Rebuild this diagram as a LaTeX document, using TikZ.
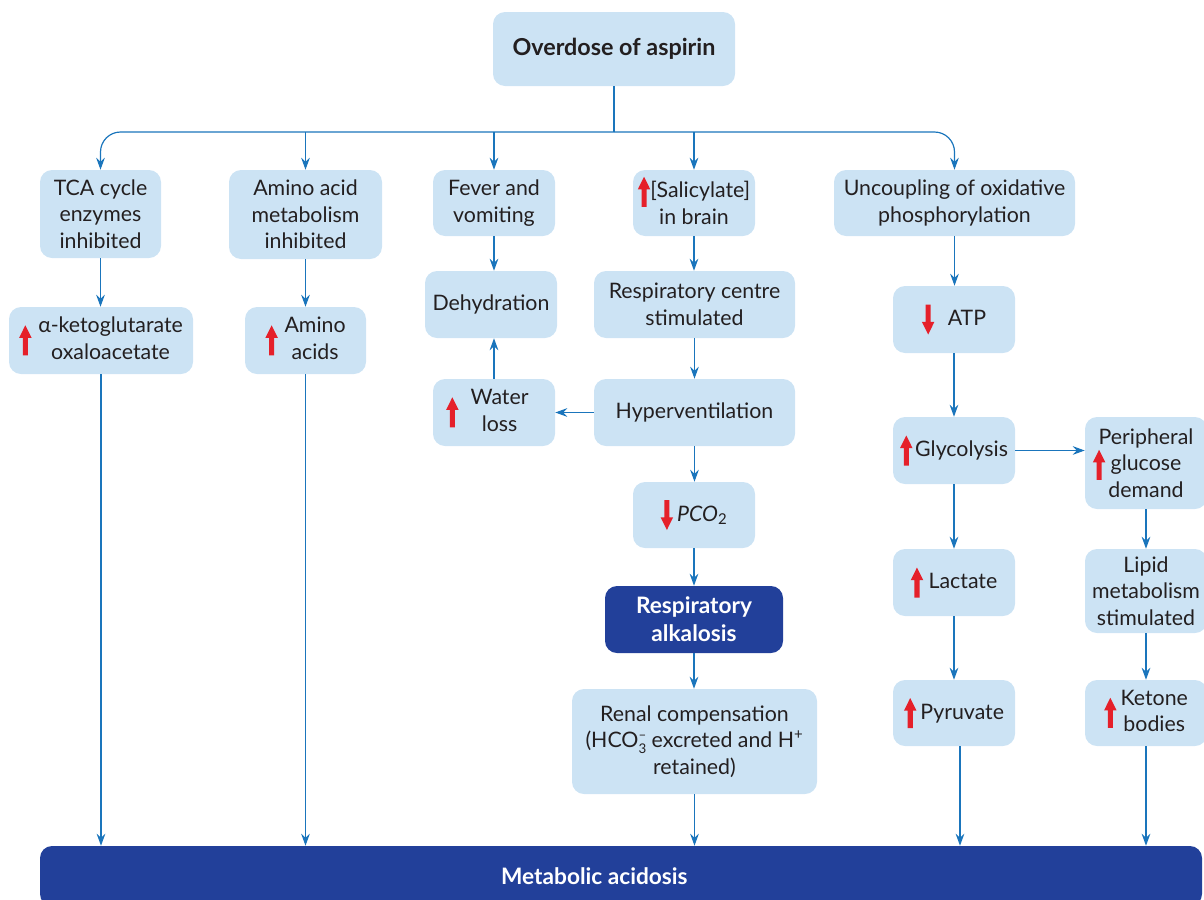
\documentclass[tikz,border=0pt]{standalone}
\usepackage{fontspec}
\setmainfont{Lato}
\usetikzlibrary{arrows.meta}
\definecolor{boxfill}{HTML}{CCE3F4}
\definecolor{darkbox}{HTML}{22409A}
\definecolor{conn}{HTML}{1A75BC}
\definecolor{redarr}{HTML}{E5202A}
\definecolor{txt}{HTML}{231F20}
\newcommand\uparr{\tikz[x=1pt,y=1pt,sharp corners,baseline={([yshift=-4.5pt]current bounding box.center)}]\fill[redarr,sharp corners] (-1.9,0) -- (1.9,0) -- (1.9,13) -- (4.7,13) -- (0,22.5) -- (-4.7,13) -- (-1.9,13) -- cycle;}
\newcommand\dnarr{\tikz[x=1pt,y=1pt,sharp corners,baseline={([yshift=-4.5pt]current bounding box.center)}]\fill[redarr,sharp corners] (-1.9,22.5) -- (1.9,22.5) -- (1.9,9.5) -- (4.7,9.5) -- (0,0) -- (-4.7,9.5) -- (-1.9,9.5) -- cycle;}
\newcommand\twoline[2]{\begin{tabular}[c]{@{}c@{}}#1\\#2\end{tabular}}
\newcommand\ionstack{\raisebox{-4pt}{\fontsize{10}{9}\selectfont\shortstack{–\\3}}}
\begin{document}
\begin{tikzpicture}[x=0.75pt,y=-0.75pt,
  box/.style={fill=boxfill, rounded corners=9pt, text=txt, align=center, inner sep=0pt,
    font=\fontsize{16}{20}\selectfont},
  dbox/.style={box, fill=darkbox, text=white, font=\fontsize{17}{21}\selectfont\bfseries},
  sz/.style 2 args={minimum width=#1*0.75pt, minimum height=#2*0.75pt},
  arr/.style={draw=conn, line width=0.9pt, -{Stealth[length=9pt,width=6.5pt,inset=3pt]}},
  ln/.style={draw=conn, line width=0.9pt}]
\useasboundingbox (0,0) rectangle (1204,900);
% nodes
\node[box, sz={242}{74}, font=\fontsize{17.5}{21}\selectfont\bfseries] (od) at (614,49) {Overdose of aspirin};
\node[box, sz={121}{88}] (tca) at (100.5,214) {TCA cycle\\enzymes\\inhibited};
\node[box, sz={153}{89}] (aa) at (305.5,214.5) {Amino acid\\metabolism\\inhibited};
\node[box, sz={122}{66}] (fv) at (494,203) {Fever and\\vomiting};
\node[box, sz={122}{66}] (sal) at (694,203) {\smash{\uparr}[Salicylate]\\in brain};
\node[box, sz={241}{66}] (unc) at (954.5,203) {Uncoupling of oxidative\\phosphorylation};
\node[box, sz={184}{67}] (ak) at (101,340.5) {\uparr\hspace{5pt}\twoline{α-ketoglutarate}{oxaloacetate}};
\node[box, sz={121}{67}] (ama) at (305.5,340.5) {\uparr\hspace{5pt}\twoline{Amino}{acids}};
\node[box, sz={132}{67}] (dh) at (491,304.5) {Dehydration};
\node[box, sz={201}{67}] (rc) at (694.5,304.5) {Respiratory centre\\stimulated};
\node[box, sz={122}{67}] (atp) at (954,319.5) {\dnarr\hspace{10pt}ATP};
\node[box, sz={122}{67}] (wl) at (494,412.5) {\uparr\hspace{9pt}\twoline{Water}{loss}\hspace{10pt}};
\node[box, sz={201}{67}] (hv) at (694.5,412.5) {Hyperventilation};
\node[box, sz={122}{67}] (gly) at (954,450.5) {\uparr\hspace{2pt}Glycolysis};
\node[box, sz={122}{92}] (pg) at (1146,463) {Peripheral\\\llap{\uparr\hspace{4pt}}glucose\\demand};
\node[box, sz={122}{66}] (pco) at (694,515) {\dnarr\hspace{3pt}\textit{PCO}\textsubscript{2}};
\node[box, sz={122}{67}] (lac) at (954,582.5) {\uparr\hspace{4pt}Lactate};
\node[box, sz={122}{84}] (lip) at (1146,591) {Lipid\\metabolism\\stimulated};
\node[dbox, sz={178}{67}] (ra) at (694,619.5) {Respiratory\\alkalosis};
\node[box, sz={245}{105}] (ren) at (694.5,741.5) {Renal compensation\\(HCO\ionstack\ excreted and H\textsuperscript{+}\\retained)};
\node[box, sz={122}{66}] (py) at (954,713) {\uparr\hspace{3pt}Pyruvate};
\node[box, sz={122}{66}] (kb) at (1146,713) {\uparr\hspace{3pt}\twoline{Ketone}{bodies}};
\node[dbox, sz={1162}{60}] (ma) at (621,876) {Metabolic acidosis\hspace{40pt}};
% connectors
\coordinate (j) at (614,132);
\draw[ln] (od.south) -- (j);
\draw[arr, rounded corners=15pt] (j) -| (tca.north);
\draw[arr, rounded corners=15pt] (j) -| (unc.north);
\draw[arr] (j -| aa.north) -- (aa.north);
\draw[arr] (j -| fv.north) -- (fv.north);
\draw[arr] (j -| sal.north) -- (sal.north);
\draw[arr] (tca.south) -- (tca.south |- ak.north);
\draw[arr] (aa.south) -- (aa.south |- ama.north);
\draw[arr] (fv.south) -- (fv.south |- dh.north);
\draw[arr] (sal.south) -- (sal.south |- rc.north);
\draw[arr] (rc.south) -- (rc.south |- hv.north);
\draw[arr] (hv.west) -- (wl.east);
\draw[arr] (wl.north) -- (wl.north |- dh.south);
\draw[arr] (hv.south) -- (hv.south |- pco.north);
\draw[arr] (pco.south) -- (pco.south |- ra.north);
\draw[arr] (ra.south) -- (ra.south |- ren.north);
\draw[arr] (unc.south) -- (unc.south |- atp.north);
\draw[arr] (atp.south) -- (atp.south |- gly.north);
\draw[arr] (gly.south) -- (gly.south |- lac.north);
\draw[arr] (lac.south) -- (lac.south |- py.north);
\draw[arr] (gly.east) -- (gly.east -| pg.west);
\draw[arr] (pg.south) -- (pg.south |- lip.north);
\draw[arr] (lip.south) -- (lip.south |- kb.north);
\draw[arr] (ak.south) -- (ak.south |- ma.north);
\draw[arr] (ama.south) -- (ama.south |- ma.north);
\draw[arr] (ren.south) -- (ren.south |- ma.north);
\draw[arr] ([xshift=4.5pt]py.south) -- ([xshift=4.5pt]py.south |- ma.north);
\draw[arr] (kb.south) -- (kb.south |- ma.north);
\end{tikzpicture}
\end{document}
